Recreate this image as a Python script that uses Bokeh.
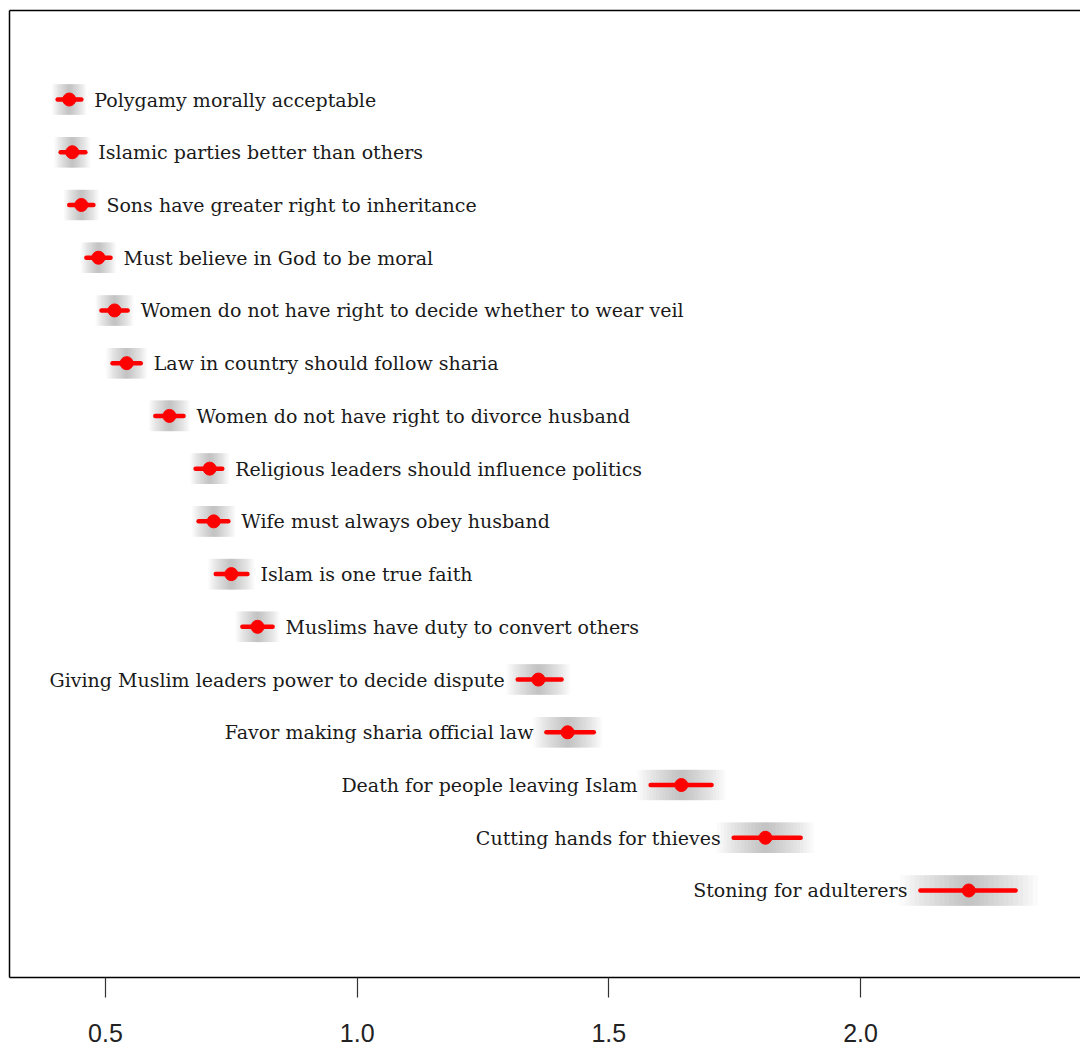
from bokeh.plotting import figure
from bokeh.models import Range1d, LinearAxis, FixedTicker, ColumnDataSource
from bokeh.embed import file_html
from bokeh.resources import INLINE
from bokeh.core.properties import value

labels = [
    "Polygamy morally acceptable",
    "Islamic parties better than others",
    "Sons have greater right to inheritance",
    "Must believe in God to be moral",
    "Women do not have right to decide whether to wear veil",
    "Law in country should follow sharia",
    "Women do not have right to divorce husband",
    "Religious leaders should influence politics",
    "Wife must always obey husband",
    "Islam is one true faith",
    "Muslims have duty to convert others",
    "Giving Muslim leaders power to decide dispute",
    "Favor making sharia official law",
    "Death for people leaving Islam",
    "Cutting hands for thieves",
    "Stoning for adulterers",
]
estimate = [0.428, 0.434, 0.452, 0.486, 0.518, 0.542, 0.627, 0.707, 0.715, 0.750, 0.802,
            1.360, 1.418, 1.644, 1.811, 2.215]
ci_low = [0.405, 0.411, 0.428, 0.462, 0.492, 0.514, 0.599, 0.679, 0.685, 0.719, 0.772,
          1.319, 1.376, 1.583, 1.748, 2.119]
ci_high = [0.452, 0.460, 0.476, 0.510, 0.544, 0.570, 0.655, 0.732, 0.744, 0.782, 0.832,
           1.406, 1.470, 1.704, 1.881, 2.308]
label_side = ["right"] * 11 + ["left"] * 5
x_ticks = [0.5, 1.0, 1.5, 2.0]
tick_labels = ["0.5", "1.0", "1.5", "2.0"]

rows = list(range(1, len(labels) + 1))

p = figure(width=1080, height=1050,
           x_range=Range1d(0.3093, 2.437), y_range=Range1d(17.65, -0.688),
           output_backend="svg", toolbar_location=None,
           x_axis_location="below", y_axis_location="left",
           min_border_left=9, min_border_top=10, min_border_right=0, min_border_bottom=73)
p.outline_line_color = None
p.grid.visible = False
p.background_fill_color = "white"
p.border_fill_color = "white"

# x axis
xa = p.xaxis[0]
xa.ticker = FixedTicker(ticks=x_ticks)
xa.major_label_overrides = {t: s for t, s in zip(x_ticks, tick_labels)}
xa.axis_line_color = "black"
xa.axis_line_width = 1.5
xa.major_tick_line_color = "#333333"
xa.major_tick_line_width = 1.2
xa.major_tick_out = 20
xa.major_tick_in = 0
xa.minor_tick_line_color = None
xa.major_label_standoff = 26
xa.major_label_text_font = "Liberation Sans"
xa.major_label_text_font_size = "25px"
xa.major_label_text_line_height = 0.9
xa.major_label_text_color = "#222222"

# left axis as border
ya = p.yaxis[0]
ya.ticker = FixedTicker(ticks=[])
ya.axis_line_color = "black"
ya.axis_line_width = 1.5
ya.major_tick_out = 0
ya.major_tick_in = 0
ya.minor_tick_out = 0
ya.minor_tick_in = 0
ya.major_label_standoff = 0
ya.major_label_text_font_size = "0px"

top_axis = LinearAxis(ticker=FixedTicker(ticks=[]), axis_line_color="black", axis_line_width=1.5,
                      major_tick_out=0, major_tick_in=0, minor_tick_out=0, minor_tick_in=0,
                      major_label_standoff=0, major_label_text_font_size="0px")
p.add_layout(top_axis, "above")

# gray gradient bands
n_layers = 14
for k in range(n_layers):
    frac = 1.0 - k / n_layers
    left, right = [], []
    for e, l, h in zip(estimate, ci_low, ci_high):
        hw = 1.45 * (h - l) / 2 * frac
        left.append(e - hw)
        right.append(e + hw)
    src = ColumnDataSource(dict(left=left, right=right,
                                top=[r - 0.29 for r in rows], bottom=[r + 0.29 for r in rows]))
    p.quad(left="left", right="right", top="top", bottom="bottom", source=src,
           fill_color="#808080", fill_alpha=0.04, line_color=None)

# red CI lines and dots
seg = ColumnDataSource(dict(x0=ci_low, x1=ci_high, y=rows, est=estimate))
p.segment(x0="x0", y0="y", x1="x1", y1="y", source=seg, line_color="#ff0000", line_width=4.5,
          line_cap="round")
p.scatter(x="est", y="y", source=seg, size=13, fill_color="#ff0000", line_color="#ff0000")

# labels
rx, ry, rt, lx, ly, lt = [], [], [], [], [], []
for lab, l, h, r, s in zip(labels, ci_low, ci_high, rows, label_side):
    if s == "right":
        rx.append(h); ry.append(r); rt.append(lab)
    else:
        lx.append(l); ly.append(r); lt.append(lab)
p.text(x=rx, y=ry, text=rt, x_offset=13, text_align="left", text_baseline="middle",
       text_font=value("DejaVu Serif"), text_font_size="19px", text_color="#1a1a1a")
p.text(x=lx, y=ly, text=lt, x_offset=-13, text_align="right", text_baseline="middle",
       text_font=value("DejaVu Serif"), text_font_size="19px", text_color="#1a1a1a")

open("out.html", "w").write(file_html(p, INLINE))
